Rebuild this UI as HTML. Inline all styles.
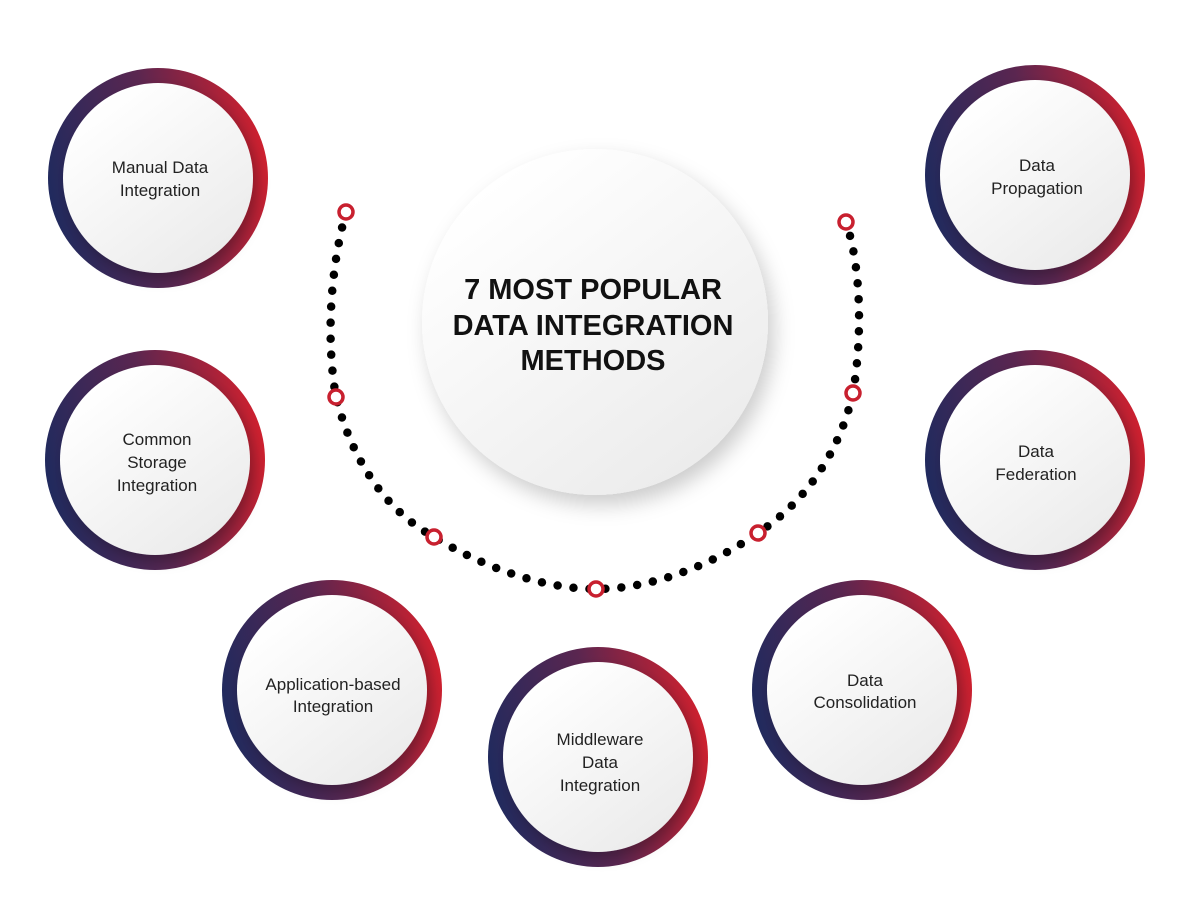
<!DOCTYPE html>
<html><head><meta charset="utf-8"><style>
html,body{margin:0;padding:0;background:#fff;}
svg{display:block;}
text{font-family:"Liberation Sans",sans-serif;}
</style></head><body>
<svg width="1200" height="900" viewBox="0 0 1200 900" xmlns="http://www.w3.org/2000/svg">
<defs>
<linearGradient id="ring" x1="0" y1="0.6" x2="1" y2="0.4">
<stop offset="0" stop-color="#1f2a5e"/>
<stop offset="0.5" stop-color="#5a2650"/>
<stop offset="1" stop-color="#d1202e"/>
</linearGradient>
<linearGradient id="inner" x1="0.2" y1="0.1" x2="0.8" y2="0.9">
<stop offset="0" stop-color="#ffffff"/>
<stop offset="1" stop-color="#ececec"/>
</linearGradient>
<filter id="sh" x="-30%" y="-30%" width="160%" height="160%">
<feDropShadow dx="4" dy="6" stdDeviation="6" flood-color="#000" flood-opacity="0.25"/>
</filter>
<filter id="sh2" x="-30%" y="-30%" width="160%" height="160%">
<feDropShadow dx="6" dy="10" stdDeviation="10" flood-color="#000" flood-opacity="0.2"/>
</filter>
<g id="node">
<circle r="110" fill="url(#ring)"/>
<circle r="95" fill="url(#inner)" filter="url(#sh)"/>
</g>
</defs>

<path d="M346,212 C330,270 326,340 336,397 C352,460 385,510 434,537 C480,565 540,589 596,589 C652,589 712,565 758,533 C808,500 840,450 853,393 C862,340 862,270 846,222" fill="none" stroke="#000" stroke-width="8.5" stroke-linecap="round" stroke-dasharray="0 16"/>
<g fill="#fff" stroke="#c8202f" stroke-width="3.5">
<circle cx="346" cy="212" r="7"/>
<circle cx="336" cy="397" r="7"/>
<circle cx="434" cy="537" r="7"/>
<circle cx="596" cy="589" r="7"/>
<circle cx="758" cy="533" r="7"/>
<circle cx="853" cy="393" r="7"/>
<circle cx="846" cy="222" r="7"/>
</g>

<circle cx="595" cy="322" r="173" fill="url(#inner)" filter="url(#sh2)"/>
<g font-weight="bold" font-size="29" text-anchor="middle" fill="#111">
<text x="593" y="299">7 MOST POPULAR</text>
<text x="593" y="335">DATA INTEGRATION</text>
<text x="593" y="370">METHODS</text>
</g>

<use href="#node" x="158" y="178"/>
<use href="#node" x="155" y="460"/>
<use href="#node" x="332" y="690"/>
<use href="#node" x="598" y="757"/>
<use href="#node" x="862" y="690"/>
<use href="#node" x="1035" y="460"/>
<use href="#node" x="1035" y="175"/>

<g font-size="17" text-anchor="middle" fill="#222">
<text x="160" y="173">Manual Data</text>
<text x="160" y="196">Integration</text>
<text x="157" y="445">Common</text>
<text x="157" y="468">Storage</text>
<text x="157" y="491">Integration</text>
<text x="333" y="690">Application-based</text>
<text x="333" y="712">Integration</text>
<text x="600" y="745">Middleware</text>
<text x="600" y="768">Data</text>
<text x="600" y="791">Integration</text>
<text x="865" y="686">Data</text>
<text x="865" y="708">Consolidation</text>
<text x="1036" y="457">Data</text>
<text x="1036" y="480">Federation</text>
<text x="1037" y="171">Data</text>
<text x="1037" y="194">Propagation</text>
</g>
</svg>
</body></html>
